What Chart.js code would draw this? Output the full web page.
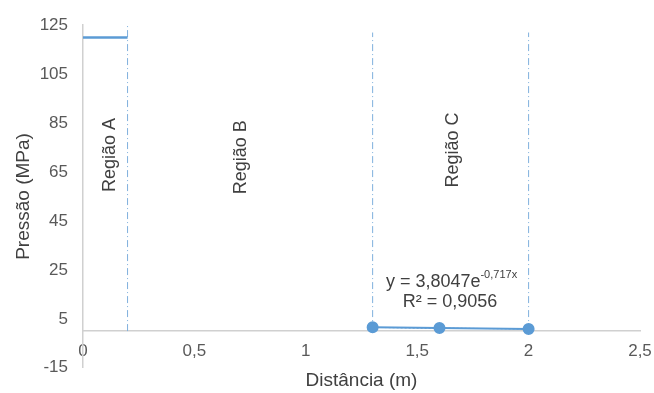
<!DOCTYPE html>
<html>
<head>
<meta charset="utf-8">
<script src="https://cdn.jsdelivr.net/npm/chart.js@4.4.0/dist/chart.umd.min.js"></script>
<style>
  html, body { margin: 0; padding: 0; background: #fff; }
  #wrap { width: 654px; height: 393px; }
</style>
</head>
<body>
<div id="wrap"><canvas id="myChart" width="654" height="393"></canvas></div>
<script>
// values
var pressureLine = [{x: 0, y: 120}, {x: 0.2, y: 120}];
var measuredX = [1.3, 1.6, 2.0];
var measuredY = [1.55, 1.25, 0.85];
var trendX = [1.3, 1.6, 2.0];
var trendY = [1.5, 1.2, 0.9];
var boundaryX = [0.2, 1.3, 2.0];
var boundaryTop = [125, 122, 122];
var regionLabels = ['Região A', 'Região B', 'Região C'];
var regionX = [0.12, 0.71, 1.66];
var regionY = [72, 71, 74];

var blue = '#5b9bd5';
var tickColor = '#595959';
var fontFamily = '"Liberation Sans", Arial, sans-serif';

function pts(xs, ys) {
    var out = [];
    for (var i = 0; i < xs.length; i++) out.push({x: xs[i], y: ys[i]});
    return out;
}

var datasets = [
    {
        data: pressureLine,
        showLine: true,
        borderColor: blue,
        borderWidth: 2.5,
        pointRadius: 0
    },
    {
        data: pts(measuredX, measuredY),
        showLine: true,
        borderColor: blue,
        borderWidth: 2,
        pointRadius: 5,
        pointBackgroundColor: blue,
        pointBorderColor: blue
    },
    {
        data: pts(trendX, trendY),
        showLine: true,
        borderColor: '#3f6f9f',
        borderWidth: 1,
        borderDash: [2, 2],
        pointRadius: 0
    }
];

for (var i = 0; i < boundaryX.length; i++) {
    datasets.push({
        data: [{x: boundaryX[i], y: 0}, {x: boundaryX[i], y: boundaryTop[i]}],
        showLine: true,
        borderColor: '#7fb0dd',
        borderWidth: 1,
        borderDash: [7, 3, 1, 3],
        pointRadius: 0
    });
}

var notes = {
    id: 'notes',
    afterDatasetsDraw: function (chart) {
        var ctx = chart.ctx;
        var sx = chart.scales.x, sy = chart.scales.y;
        ctx.save();
        ctx.fillStyle = '#404040';
        ctx.font = '18px ' + fontFamily;
        ctx.textAlign = 'center';
        ctx.textBaseline = 'middle';
        for (var i = 0; i < regionLabels.length; i++) {
            ctx.save();
            ctx.translate(sx.getPixelForValue(regionX[i]), sy.getPixelForValue(regionY[i]));
            ctx.rotate(-Math.PI / 2);
            ctx.fillText(regionLabels[i], 0, 0);
            ctx.restore();
        }
        // trendline equation
        var ex = sx.getPixelForValue(1.654), ey = sy.getPixelForValue(20);
        var base = 'y = 3,8047e', sup = '-0,717x';
        ctx.font = '18px ' + fontFamily;
        var w1 = ctx.measureText(base).width;
        ctx.font = '11px ' + fontFamily;
        var w2 = ctx.measureText(sup).width;
        var startX = ex - (w1 + w2) / 2;
        ctx.textAlign = 'left';
        ctx.font = '18px ' + fontFamily;
        ctx.fillText(base, startX, ey);
        ctx.font = '11px ' + fontFamily;
        ctx.fillText(sup, startX + w1, ey - 7);
        ctx.textAlign = 'center';
        ctx.font = '18px ' + fontFamily;
        ctx.fillText('R² = 0,9056', sx.getPixelForValue(1.647), sy.getPixelForValue(11.8));
        ctx.restore();
    }
};

function comma(v) {
    return String(v).replace('.', ',');
}

new Chart(document.getElementById('myChart').getContext('2d'), {
    type: 'scatter',
    data: {datasets: datasets},
    plugins: [notes],
    options: {
        responsive: false,
        animation: false,
        layout: {padding: {top: 20, left: 0, right: 0, bottom: 0}},
        plugins: {legend: {display: false}, tooltip: {enabled: false}},
        scales: {
            x: {
                type: 'linear',
                position: {y: 0},
                min: 0,
                max: 2.5,
                afterFit: function (scale) {
                    scale.height = 25;
                    scale.paddingRight = 14;
                },
                grid: {display: false, drawTicks: false},
                border: {display: true, color: '#d0d0d0', width: 1.5},
                ticks: {
                    stepSize: 0.5,
                    padding: 10,
                    color: tickColor,
                    font: {family: fontFamily, size: 17},
                    callback: function (v) { return comma(v); }
                },
                title: {
                    display: true,
                    text: 'Distância (m)',
                    color: '#404040',
                    font: {family: fontFamily, size: 19},
                    padding: {top: 0, bottom: -36}
                }
            },
            y: {
                type: 'linear',
                min: -15,
                max: 125,
                afterFit: function (scale) { scale.width = 83; },
                grid: {display: false, drawTicks: false},
                border: {display: true, color: '#d0d0d0', width: 1.5},
                ticks: {
                    stepSize: 20,
                    padding: 15,
                    color: tickColor,
                    font: {family: fontFamily, size: 17}
                },
                title: {
                    display: true,
                    text: 'Pressão (MPa)',
                    color: '#404040',
                    font: {family: fontFamily, size: 19},
                    padding: {top: 12, bottom: 0}
                }
            }
        }
    }
});
</script>
</body>
</html>
